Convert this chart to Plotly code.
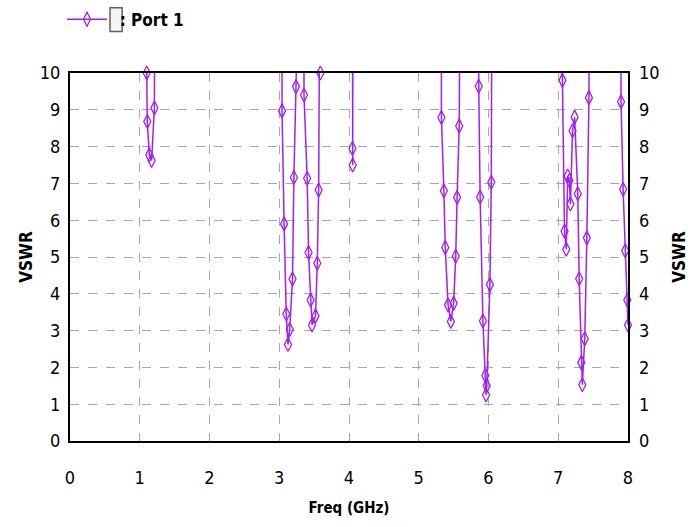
import plotly.graph_objects as go

# Frequency sweep (GHz) and VSWR; values of 20 are off-scale (above the 0-10 range)
freq = [0.00, 1.095,
        1.100, 1.108, 1.137, 1.170, 1.210, 1.225,
        3.035, 3.040, 3.070, 3.100, 3.125, 3.150, 3.190, 3.210, 3.240, 3.255,
        3.350, 3.355, 3.400, 3.420, 3.450, 3.470, 3.520, 3.545, 3.565, 3.590, 3.600,
        4.045, 4.050, 4.053, 4.060,
        5.322, 5.325, 5.360, 5.380, 5.420, 5.460, 5.500, 5.530, 5.550, 5.580, 5.615,
        5.858, 5.860, 5.880, 5.920, 5.955, 5.965, 5.975, 6.020, 6.040, 6.060,
        7.055, 7.060, 7.090, 7.115, 7.135, 7.160, 7.175, 7.205, 7.235, 7.280, 7.300,
        7.330, 7.345, 7.380, 7.410, 7.440, 7.450,
        7.895, 7.900, 7.930, 7.960, 7.990, 8.000]
vswr = [20, 20,
        10.0, 8.68, 7.77, 7.62, 9.05, 20,
        20, 8.97, 5.90, 3.45, 2.62, 3.03, 4.40, 7.16, 9.63, 20,
        20, 9.40, 7.14, 5.12, 3.83, 3.15, 3.40, 4.83, 6.82, 10.0, 20,
        20, 7.95, 7.50, 20,
        20, 8.79, 6.80, 5.26, 3.70, 3.25, 3.74, 5.02, 6.62, 8.56, 20,
        20, 9.64, 6.63, 3.26, 1.78, 1.25, 1.50, 4.25, 7.03, 20,
        20, 9.80, 5.70, 5.21, 7.20, 7.08, 6.44, 8.43, 8.80, 6.72, 4.41,
        2.13, 1.53, 2.78, 5.52, 9.33, 20,
        20, 9.22, 6.84, 5.17, 3.83, 3.15]

x_ticks = [0, 1, 2, 3, 4, 5, 6, 7, 8]
y_ticks = [0, 1, 2, 3, 4, 5, 6, 7, 8, 9, 10]
series_name = "\u2002<b>: Port 1</b>"

PURPLE = "#a020f0"
FONT = "DejaVu Sans Condensed, Liberation Sans Narrow, Liberation Sans, Arial"

mx = [f for f, v in zip(freq, vswr) if v <= 10]
my = [v for v in vswr if v <= 10]

fig = go.Figure()
fig.add_trace(go.Scatter(x=freq, y=vswr, mode="lines", showlegend=False,
                         line=dict(color=PURPLE, width=1.5), hoverinfo="skip"))
fig.add_trace(go.Scatter(x=mx, y=my, mode="markers", showlegend=False, cliponaxis=False,
                         marker=dict(symbol="diamond-tall-open", size=10, color=PURPLE,
                                     line=dict(width=1.3, color=PURPLE))))
fig.add_trace(go.Scatter(x=[None], y=[None], mode="lines+markers", name=series_name,
                         line=dict(color=PURPLE, width=1.5),
                         marker=dict(symbol="diamond-tall-open", size=10, color=PURPLE,
                                     line=dict(width=1.3, color=PURPLE))))
fig.add_trace(go.Scatter(x=[None], y=[None], yaxis="y2", showlegend=False, hoverinfo="skip"))

axis_common = dict(
    showline=True, linecolor="black", linewidth=2, mirror=True,
    showgrid=True, gridcolor="#a8a8a8", griddash="dash", gridwidth=1.3,
    zeroline=False, ticks="", tickfont=dict(family=FONT, size=18, color="black"),
)

fig.update_layout(
    width=699, height=527,
    margin=dict(l=70, r=71, t=73, b=86, autoexpand=False),
    paper_bgcolor="white", plot_bgcolor="white",
    font=dict(family=FONT, color="black"),
    xaxis=dict(range=[0, 8], tickvals=x_ticks, ticktext=[str(t) for t in x_ticks],
               ticklabelstandoff=19,
               title=dict(text="<b>Freq (GHz)</b>", font=dict(family=FONT, size=15), standoff=16),
               **axis_common),
    yaxis=dict(range=[0, 10], tickvals=y_ticks, ticktext=[str(t) for t in y_ticks],
               ticklabelstandoff=4,
               title=dict(text="<b>VSWR</b>", font=dict(family=FONT, size=17), standoff=3),
               **axis_common),
    yaxis2=dict(range=[0, 10], tickvals=y_ticks, ticktext=[str(t) for t in y_ticks],
                overlaying="y", side="right", showgrid=False, showline=False, zeroline=False,
                ticks="", ticklabelstandoff=10, tickfont=dict(family=FONT, size=18, color="black"),
                title=dict(text="<b>VSWR</b>", font=dict(family=FONT, size=17), standoff=14)),
    legend=dict(x=-0.0143, y=1.145, xanchor="left", yanchor="middle",
                font=dict(family=FONT, size=17, color="black"),
                bgcolor="rgba(0,0,0,0)", itemwidth=40),
    shapes=[dict(type="rect", xref="paper", yref="paper",
                 x0=0.0717, x1=0.0935, y0=1.113, y1=1.177,
                 line=dict(color="#606060", width=1.5), fillcolor="#f4f4f0")],
)

fig.write_html("out.html")
